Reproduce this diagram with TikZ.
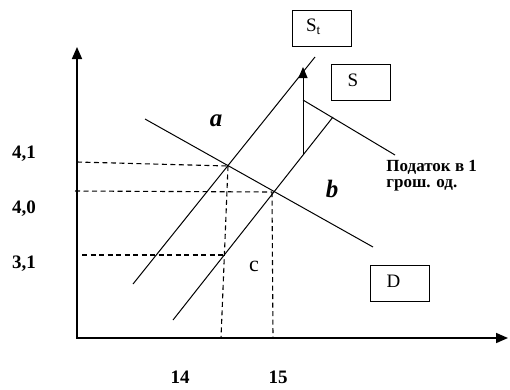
\documentclass[tikz,border=0pt]{standalone}
\usepackage{fontspec}
\setmainfont{Liberation Serif}
\usetikzlibrary{arrows.meta,calc}
\tikzset{every picture/.style={line width=0.9pt}}
\tikzset{
  axis/.style={line width=1.6pt, -{Triangle[length=12pt,width=10pt]}},
  curve/.style={line width=1pt},
  guide/.style={dashed, dash pattern=on 5pt off 3.5pt, line width=1.1pt},
  valbox/.style={draw, line width=0.8pt, minimum width=59pt, minimum height=36pt, inner sep=0pt},
  num/.style={font=\fontsize{19}{20}\selectfont\bfseries, inner sep=0pt},
  boxlabel/.style={font=\fontsize{19}{20}\selectfont, inner sep=0pt},
}

\begin{document}
\begin{tikzpicture}[x=1pt, y=-1pt]
    \useasboundingbox (0,0) rectangle (510,389);

    % осі
    \coordinate (O) at (77,338);
    \coordinate (ytop) at (77,47);
    \coordinate (xend) at (508,338);
    \draw[axis] (O) -- (ytop);
    \draw[axis] ($(O)+(-1,0)$) -- (xend);

    % криві пропозиції та попиту
    \coordinate (st1) at (133,284);
    \coordinate (st2) at (315,57);
    \coordinate (s1) at (173,320);
    \coordinate (s2) at (333,117);
    \coordinate (d1) at (145,119);
    \coordinate (d2) at (373,247);
    \draw[curve] (st1) -- (st2);
    \draw[curve] (s1) -- (s2);
    \draw[curve] (d1) -- (d2);

    % точки рівноваги
    \coordinate (E1) at (228,166);
    \coordinate (E2) at (272,192);
    \coordinate (E3) at (224,255);

    % податок
    \coordinate (t0) at (303,155);
    \coordinate (t1) at (303,67);
    \coordinate (p1) at (303,100);
    \coordinate (p2) at (395,155);
    \draw[curve, -{Triangle[length=11pt,width=9pt]}] (t0) -- (t1);
    \draw[curve] (p1) -- (p2);
    \node[anchor=north west, align=left, font=\fontsize{17}{16}\selectfont\bfseries, inner sep=0pt] (tax) at (386,160) {Податок в 1\\грош. од.};

    % пунктирні лінії
    \coordinate (q41) at (77,162);
    \coordinate (q40) at (75,191);
    \coordinate (q31) at (82,255);
    \coordinate (x14) at (221,338);
    \coordinate (x15) at (273,338);
    \draw[guide] (q41) -- (E1);
    \draw[guide] (q40) -- (E2);
    \draw[guide] (q31) -- (E3);
    \draw[guide] (E1) -- (x14);
    \draw[guide] (E2) -- (x15);

    % значення на осях
    \node[num] (l41) at (24,154) {4,1};
    \node[num] (l40) at (24,209) {4,0};
    \node[num] (l31) at (24,264) {3,1};
    \node[num] (l14) at (180,377) {14};
    \node[num] (l15) at (278,377) {15};

    % позначки областей
    \node[font=\fontsize{25}{26}\selectfont\bfseries\itshape, inner sep=0pt] (la) at (216,121) {a};
    \node[font=\fontsize{25}{26}\selectfont\bfseries\itshape, inner sep=0pt] (lb) at (332,189) {b};
    \node[font=\fontsize{22}{23}\selectfont, inner sep=0pt] (lc) at (254,266) {c};

    % рамки з назвами кривих
    \node[valbox] (stbox) at (321.5,28) {};
    \node[boxlabel] (sttext) at ($(stbox)+(-8,-1)$) {S\textsubscript{t}};
    \node[boxlabel] (stext) at (353,80) {S};
    \node[valbox] (sbox) at (360.5,82.5) {};
    \node[valbox] (dbox) at (399.5,283.5) {};
    \node[boxlabel] (dtext) at ($(dbox)+(-6,-2)$) {D};
\end{tikzpicture}
\end{document}
